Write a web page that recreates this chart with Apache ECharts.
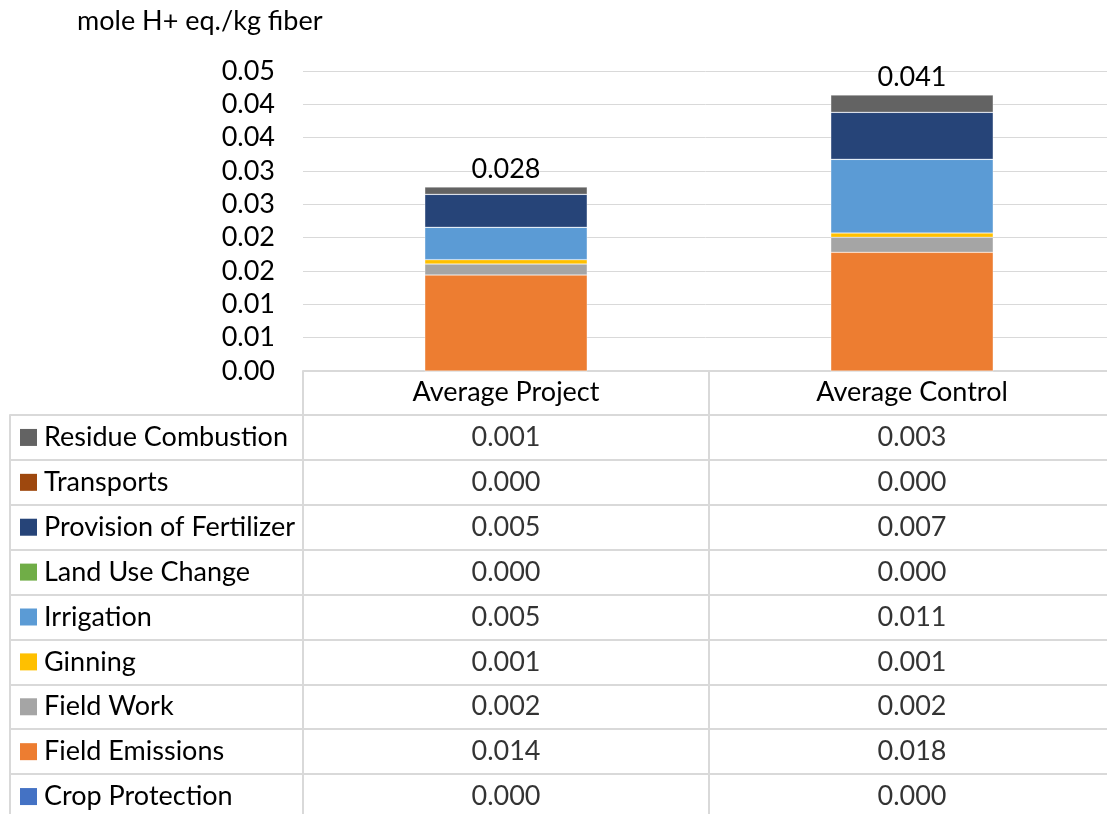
<!DOCTYPE html>
<html>
<head>
<meta charset="utf-8">
<script src="https://cdn.jsdelivr.net/npm/echarts@6/dist/echarts.min.js"></script>
<style>html,body{margin:0;padding:0;background:#fff}#c{width:1107px;height:814px}</style>
</head>
<body>
<div id="c"></div>
<script>
// ---- data ----
const categories = ['Average Project', 'Average Control'];
// stacking order, bottom to top
const seriesNames = ['Crop Protection', 'Field Emissions', 'Field Work', 'Ginning', 'Irrigation',
  'Land Use Change', 'Provision of Fertilizer', 'Transports', 'Residue Combustion'];
const cropProtection   = [0.0000, 0.0000];
const fieldEmissions   = [0.0144, 0.0178];
const fieldWork        = [0.00165, 0.00225];
const ginning          = [0.00065, 0.00065];
const irrigation       = [0.00485, 0.01105];
const landUseChange    = [0.0000, 0.0000];
const provisionFert    = [0.00495, 0.00705];
const transports       = [0.0000, 0.0000];
const residueComb      = [0.0011, 0.0026];
const seriesValues = [cropProtection, fieldEmissions, fieldWork, ginning, irrigation,
  landUseChange, provisionFert, transports, residueComb];
const yTickValues = { min: 0, max: 0.045, interval: 0.005 };
const yAxisTitle = 'mole H+ eq./kg fiber';

// ---- styles ----
const colors = ['#4472c4', '#ed7d31', '#a5a5a5', '#ffc000', '#5b9bd5', '#70ad47', '#264478', '#9e480e', '#636363'];
const FONT = 'Lato';
const FS = 27;
const LINE = '#d9d9d9';

const totals = categories.map((c, j) => seriesValues.reduce((s, arr) => s + arr[j], 0));

const rich = { t: { fontFamily: FONT, fontSize: FS, color: '#000', padding: [0, 0, 0, 7] } };
seriesNames.forEach((n, i) => { rich['c' + i] = { backgroundColor: colors[i], width: 17, height: 17 }; });

const barSeries = seriesNames.map((name, i) => ({
  name, type: 'bar', stack: 'total', xAxisIndex: 0, yAxisIndex: 0,
  barWidth: '40%',
  itemStyle: { color: colors[i], borderColor: 'rgba(255,255,255,0.6)', borderWidth: 0.5 },
  data: seriesValues[i],
  label: i === seriesNames.length - 1 ? {
    show: true, position: 'top', distance: 4, fontFamily: FONT, fontSize: FS, color: '#000',
    formatter: p => totals[p.dataIndex].toFixed(3)
  } : { show: false },
  silent: true
}));

const tableData = [];
seriesNames.forEach((n, i) => categories.forEach((c, j) => tableData.push([c, n, seriesValues[i][j]])));

const option = {
  animation: false,
  backgroundColor: '#fff',
  title: { text: yAxisTitle, left: 72, top: 3, textStyle: { fontFamily: FONT, fontSize: FS, fontWeight: 'normal', color: '#000' } },
  grid: [
    { left: 303, right: -8, top: 71, height: 300, outerBoundsMode: 'none' },
    { left: 303, right: -8, top: 415, height: 404, outerBoundsMode: 'none' }
  ],
  xAxis: [
    { type: 'category', gridIndex: 0, data: categories,
      axisLine: { show: true, lineStyle: { color: LINE, width: 2 } },
      axisTick: { show: true, length: 44, lineStyle: { color: LINE, width: 2 } },
      axisLabel: { fontFamily: FONT, fontSize: FS, color: '#000', margin: 8 } },
    { type: 'category', gridIndex: 1, data: categories,
      axisLine: { show: false }, axisTick: { show: false }, axisLabel: { show: false },
      splitLine: { show: true, lineStyle: { color: LINE, width: 2 } } }
  ],
  yAxis: [
    { type: 'value', gridIndex: 0, min: yTickValues.min, max: yTickValues.max, interval: yTickValues.interval,
      axisLine: { show: false }, axisTick: { show: false },
      axisLabel: { fontFamily: FONT, fontSize: FS, color: '#000', margin: 28,
        formatter: v => (Math.round(v * 100 + 1e-6) / 100).toFixed(2) },
      splitLine: { lineStyle: { color: LINE, width: 1 } } },
    { type: 'category', gridIndex: 1, data: seriesNames,
      axisLine: { show: true, lineStyle: { color: LINE, width: 2 } },
      axisTick: { show: true, length: 293, lineStyle: { color: LINE, width: 2 } },
      axisLabel: { align: 'left', margin: 283,
        formatter: (v) => '{c' + seriesNames.indexOf(v) + '|}{t|' + v + '}', rich },
      splitLine: { show: true, lineStyle: { color: LINE, width: 2 } } },
    { type: 'category', gridIndex: 1, data: seriesNames, position: 'left', offset: 293,
      axisLine: { show: true, lineStyle: { color: LINE, width: 2 } },
      axisTick: { show: false }, axisLabel: { show: false }, splitLine: { show: false } }
  ],
  series: [
    ...barSeries,
    { type: 'scatter', xAxisIndex: 1, yAxisIndex: 1, symbolSize: 1, silent: true,
      itemStyle: { color: 'rgba(0,0,0,0)' },
      data: tableData,
      label: { show: true, position: 'inside', fontFamily: FONT, fontSize: FS, color: '#000',
        formatter: p => p.value[2].toFixed(3) } }
  ]
};
echarts.init(document.getElementById('c'), null, { renderer: 'canvas' }).setOption(option);
</script>
</body>
</html>
